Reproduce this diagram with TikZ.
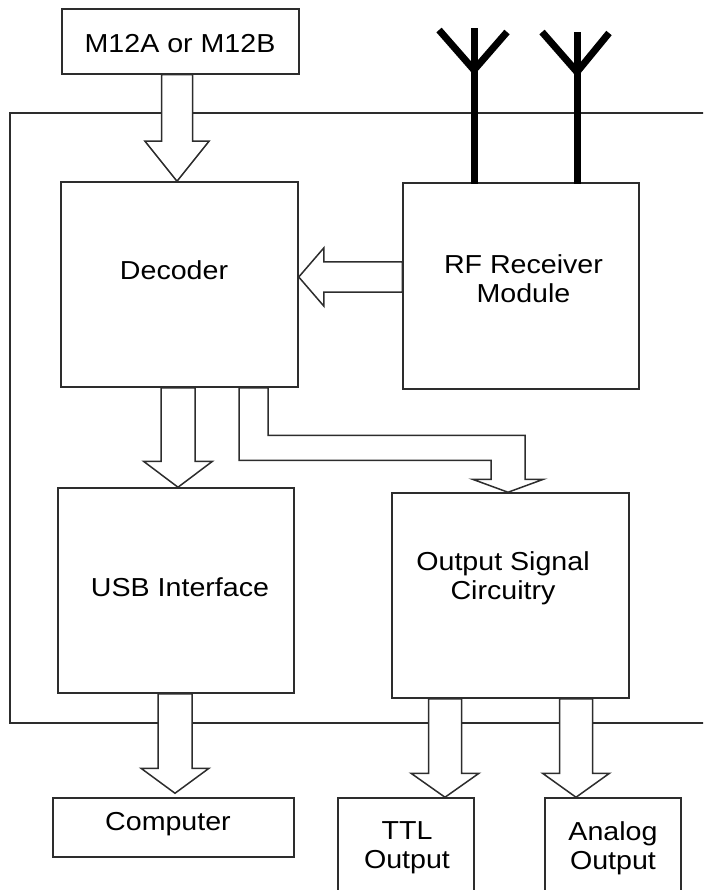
\documentclass[tikz,border=0pt]{standalone}
\usepackage{fontspec}
\setmainfont{Liberation Sans}[FakeStretch=1.1]
\usetikzlibrary{calc}
\definecolor{ln}{RGB}{45,45,45}
\newcommand\blkdown[5]{%
  \draw[blk] let \p1=(#1), \p2=(#2) in
    (\x2-#3,\y1) -- (\x2-#3,\y2+#5) -- (\x2-#4,\y2+#5) -- (\x2,\y2)
    -- (\x2+#4,\y2+#5) -- (\x2+#3,\y2+#5) -- (\x2+#3,\y1) -- cycle;}
\begin{document}
\begin{tikzpicture}[x=1pt,y=-1pt,
  box/.style={draw=ln, line width=1.5pt, fill=white, rectangle, inner sep=0pt},
  blk/.style={draw=ln, line width=1.5pt, fill=white, line join=miter},
  frame/.style={draw=ln, line width=1.5pt},
  txt/.style={font=\fontsize{26}{29}\selectfont, align=center, inner sep=0pt, text=black},
  ant/.style={line width=7pt, draw=black, line join=miter}]
\useasboundingbox (0,0) rectangle (703,890);
\clip (0,0) rectangle (703,890);

% outer enclosure
\coordinate (ftr) at (706,113);
\coordinate (ftl) at (10,113);
\coordinate (fbl) at (10,723);
\coordinate (fbr) at (706,723);
\draw[frame] (ftr) -- (ftl) -- (fbl) -- (fbr);

% boxes
\node[box, minimum width=237pt, minimum height=65pt]  (m12)  at (180.5,41.5) {};
\node[box, minimum width=237pt, minimum height=205pt] (dec)  at (179.5,284.5) {};
\node[box, minimum width=236pt, minimum height=206pt] (rf)   at (521,286) {};
\node[box, minimum width=236pt, minimum height=205pt] (usb)  at (176,590.5) {};
\node[box, minimum width=237pt, minimum height=205pt] (out)  at (510.5,595.5) {};
\node[box, minimum width=241pt, minimum height=59pt]  (comp) at (173.5,827.5) {};
\node[box, minimum width=136pt, minimum height=96pt]  (ttl)  at (406,846) {};
\node[box, minimum width=136pt, minimum height=96pt]  (ana)  at (613,846) {};

% block arrows
\blkdown{m12.south}{$(dec.north)+(-2.5,0)$}{15.5pt}{32pt}{40pt}
\blkdown{dec.south}{$(usb.north)+(2,0)$}{17pt}{34.5pt}{26pt}
\blkdown{usb.south}{$(comp.north)+(1.5,-4)$}{17pt}{34pt}{25pt}
\blkdown{out.south}{$(ttl.north)+(39,0)$}{16.5pt}{34pt}{24pt}
\blkdown{out.south}{$(ana.north)+(-37,0)$}{16.5pt}{33.5pt}{24pt}

% RF -> Decoder
\draw[blk] let \p1=(rf.west), \p2=($(dec.east)+(0,-7.5)$) in
  (\x1,\y2+15pt) -- (\x2+25pt,\y2+15pt) -- (\x2+25pt,\y2+29pt) -- (\x2,\y2)
  -- (\x2+25pt,\y2-29pt) -- (\x2+25pt,\y2-15pt) -- (\x1,\y2-15pt) -- cycle;

% Decoder -> Output Signal Circuitry (bent)
\draw[blk] let \p1=($(dec.south)+(59.5,0)$), \p2=($(out.north)+(-2.5,0)$) in
  (\x1,\y1) -- (\x1,\y2+32pt) -- (\x2-17pt,\y2+32pt) -- (\x2-17pt,\y2+13pt)
  -- (\x2-35.5pt,\y2+13pt) -- (\x2,\y2) -- (\x2+35.5pt,\y2+13pt)
  -- (\x2+17pt,\y2+13pt) -- (\x2+17pt,\y2+57pt) -- (\x1+29pt,\y2+57pt)
  -- (\x1+29pt,\y1) -- cycle;

% antennas
\coordinate (a1b) at (474,184); \coordinate (a1t) at (474,28);
\coordinate (a1l) at (439,30);  \coordinate (a1f) at (474,70); \coordinate (a1r) at (507,32);
\coordinate (a2b) at (577,184); \coordinate (a2t) at (577,32);
\coordinate (a2l) at (542,32);  \coordinate (a2f) at (577,72); \coordinate (a2r) at (609,33);
\draw[ant] (a1b) -- (a1t);
\draw[ant] (a1l) -- (a1f) -- (a1r);
\draw[ant] (a2b) -- (a2t);
\draw[ant] (a2l) -- (a2f) -- (a2r);

% texts
\node[txt] (m12t)  at (180,44)    {M12A or M12B};
\node[txt] (dect)  at (174,270)   {Decoder};
\node[txt] (rft)   at (523.5,279) {RF Receiver\\Module};
\node[txt] (usbt)  at (180,587)   {USB Interface};
\node[txt] (outt)  at (503,578)   {Output Signal\\Circuitry};
\node[txt] (compt) at (168,824)   {Computer};
\node[txt] (ttlt)  at (407,848)   {TTL\\Output};
\node[txt] (anat)  at (613,848)   {Analog\\Output};
\end{tikzpicture}
\end{document}
